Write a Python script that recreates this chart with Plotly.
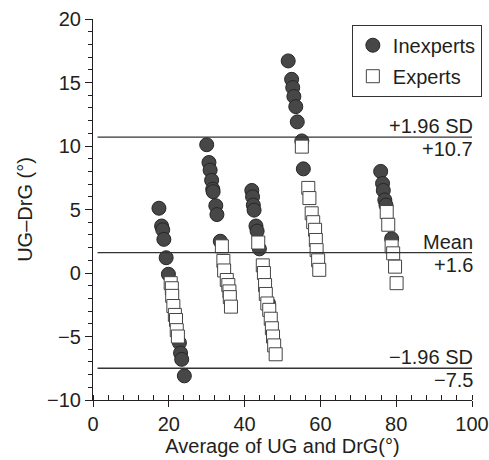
import plotly.graph_objects as go

# Inexperts (filled circles)
inexp_x = [17.4, 18.1, 18.4, 18.7, 19.3, 19.9, 22.8, 23.1, 23.4, 24.1,
           30.0, 30.6, 30.9, 31.3, 31.6, 31.7, 32.4, 32.7, 33.6,
           41.9, 42.1, 42.3, 42.5, 43.0, 43.3, 43.9, 46.3,
           51.5, 52.4, 52.7, 53.0, 53.5, 53.9, 55.1, 55.5,
           75.9, 76.4, 76.6, 77.0, 77.3, 78.8]
inexp_y = [5.1, 3.7, 3.4, 2.65, 1.2, -0.1, -5.5, -6.3, -6.8, -8.1,
           10.1, 8.7, 8.1, 7.3, 6.6, 6.4, 5.3, 4.6, 2.5,
           6.5, 6.0, 5.35, 4.95, 3.7, 3.3, 1.9, -2.4,
           16.7, 15.25, 14.6, 13.9, 13.1, 11.9, 10.4, 8.2,
           8.0, 7.05, 6.5, 5.75, 5.35, 2.7]

# Experts (open squares)
exp_x = [20.5, 20.8, 20.9, 21.2, 21.6, 21.9, 22.1, 22.4,
         34.0, 34.4, 34.6, 35.3, 35.7, 36.0, 36.1, 36.4,
         43.6, 44.8, 45.1, 45.4, 45.6, 46.0, 46.5, 46.9, 47.2, 47.5, 47.8, 48.2,
         55.1, 56.8, 57.1, 57.7, 58.1, 58.6, 58.8, 59.0, 59.4, 59.7,
         77.5, 77.9, 78.8, 79.2, 79.7, 80.1]
exp_y = [-0.8, -1.2, -1.8, -2.6, -3.3, -3.7, -4.5, -5.0,
         2.1, 0.95, 0.2, -0.55, -0.95, -1.45, -1.9, -2.65,
         2.4, 0.6, 0.0, -0.95, -1.65, -2.4, -2.9, -3.6, -4.35, -5.0, -5.7, -6.4,
         9.95, 6.7, 5.9, 4.7, 4.0, 3.4, 2.6, 1.8, 1.0, 0.25,
         4.8, 3.8, 2.1, 1.55, 0.5, -0.8]

# Reference lines (Bland-Altman)
line_values = [10.7, 1.6, -7.5]
line_top_labels = ["+1.96 SD", "Mean", "\u22121.96 SD"]
line_bottom_labels = ["+10.7", "+1.6", "\u22127.5"]

x_ticks = [0, 20, 40, 60, 80, 100]
y_ticks = [-10, -5, 0, 5, 10, 15, 20]
y_tick_text = ["\u221210", "\u22125", "0", "5", "10", "15", "20"]

FONT = "Liberation Sans, Arial, sans-serif"
INK = "#231f20"

fig = go.Figure()
fig.add_trace(go.Scatter(
    x=inexp_x, y=inexp_y, mode="markers", name="Inexperts", legendgroup="a",
    marker=dict(symbol="circle", size=14, color="#474747",
                line=dict(color="#262626", width=1))))
fig.add_trace(go.Scatter(
    x=exp_x, y=exp_y, mode="markers", name="Experts", legendgroup="b",
    marker=dict(symbol="square", size=13, color="white",
                line=dict(color="#444444", width=1))))

for v, top, bot in zip(line_values, line_top_labels, line_bottom_labels):
    fig.add_shape(type="line", xref="paper", yref="y", x0=0.012, x1=1.0,
                  y0=v, y1=v, line=dict(color="#333333", width=1.3))
    fig.add_annotation(xref="paper", yref="y", x=1.0, y=v, text=top,
                       showarrow=False, xanchor="right", yanchor="bottom",
                       yshift=-2, xshift=3, font=dict(size=20, color=INK))
    fig.add_annotation(xref="paper", yref="y", x=1.0, y=v, text=bot,
                       showarrow=False, xanchor="right", yanchor="top",
                       yshift=1, xshift=3, font=dict(size=20, color=INK))

fig.update_layout(
    width=489, height=460,
    margin=dict(l=93, r=17, t=19, b=60, autoexpand=False),
    paper_bgcolor="white", plot_bgcolor="white",
    font=dict(family=FONT, size=20, color=INK),
    showlegend=True,
    legend=dict(x=1.026, y=0.985, xanchor="right", yanchor="top",
                bordercolor="#333", borderwidth=1, bgcolor="white",
                font=dict(size=20, color=INK), traceorder="grouped",
                tracegroupgap=2, itemwidth=30),
    xaxis=dict(range=[0, 100], tickvals=x_ticks, showgrid=False, zeroline=False,
               showline=True, linecolor=INK, linewidth=1.2,
               ticks="outside", ticklen=6, tickcolor=INK,
               tickfont=dict(size=20),
               minor=dict(dtick=4, ticks="inside", ticklen=5, tickcolor=INK),
               title=dict(text="Average of UG and DrG(\u00b0)", font=dict(size=20), standoff=4)),
    yaxis=dict(range=[-10, 20], tickvals=y_ticks, ticktext=y_tick_text,
               showgrid=False, zeroline=False,
               showline=True, linecolor=INK, linewidth=1.2,
               ticks="outside", ticklen=7, tickcolor=INK,
               tickfont=dict(size=20),
               minor=dict(dtick=1, ticks="outside", ticklen=4, tickcolor=INK),
               title=dict(text="UG\u2013DrG (\u00b0)", font=dict(size=20), standoff=8)),
)

fig.write_html("out.html")
